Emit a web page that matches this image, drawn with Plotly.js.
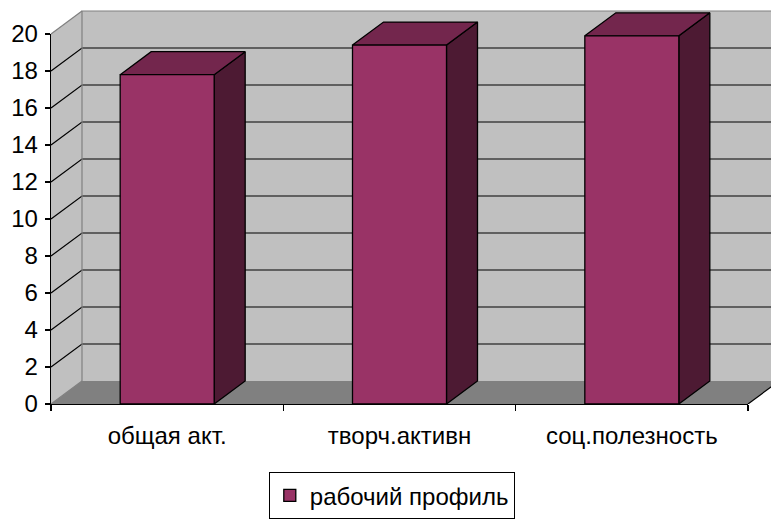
<!DOCTYPE html>
<html>
<head>
<meta charset="utf-8">
<script src="https://cdn.plot.ly/plotly-3.0.1.min.js"></script>
<style>html,body{margin:0;padding:0;background:#fff;}#chart{width:771px;height:521px;}</style>
</head>
<body>
<div id="chart"></div>
<script>
// ---- data ----
const categories = ['общая акт.', 'творч.активн', 'соц.полезность'];
const values = [17.8, 19.4, 19.9];
const seriesName = 'рабочий профиль';
const yTickVals = [0, 2, 4, 6, 8, 10, 12, 14, 16, 18, 20];
const yTickText = ['0', '2', '4', '6', '8', '10', '12', '14', '16', '18', '20'];

// ---- style / geometry ----
const FONT = '"Liberation Sans", Arial, sans-serif';
const FS = 24;
const W = 771, H = 521;
const PLOT_BOTTOM = 404;           // px of value 0 on front plane
const PX_PER_Y = 18.5;             // px per value unit
const AX_LEFT = 51, AX_RIGHT = 748; // front axis extent in px
const PX_PER_X = (AX_RIGHT - AX_LEFT) / categories.length;
const DX = 31 / PX_PER_X;          // depth offset (x units)
const DY = 23 / PX_PER_Y;          // depth offset (y units)
const BAR_W = 0.4046;
const YMAX = yTickVals[yTickVals.length - 1];
const X0 = -0.5, X1 = categories.length - 0.5;
const XMIN = X0 - AX_LEFT / PX_PER_X;
const XMAX = X1 + (W - AX_RIGHT) / PX_PER_X;
const XFAR = XMAX + 1;

const C_WALL = '#C0C0C0', C_FLOOR = '#808080', C_EDGE = '#808080';
const C_FRONT = '#993366', C_TOP = '#73264D', C_SIDE = '#4D1A33';

const traces = [];
function poly(xs, ys, fill, lineColor, lw) {
  traces.push({
    x: xs.concat([xs[0]]), y: ys.concat([ys[0]]),
    type: 'scatter', mode: 'lines', fill: 'toself', fillcolor: fill,
    line: {color: lineColor || fill, width: lw === undefined ? 0 : lw},
    xaxis: 'x', yaxis: 'y', hoverinfo: 'skip', showlegend: false
  });
}
function lines(xs, ys, color, lw) {
  traces.push({
    x: xs, y: ys, type: 'scatter', mode: 'lines',
    line: {color: color, width: lw},
    xaxis: 'x', yaxis: 'y', hoverinfo: 'skip', showlegend: false
  });
}

// back wall
poly([X0 + DX, XFAR, XFAR, X0 + DX], [DY, DY, YMAX + DY, YMAX + DY], C_WALL);
// left wall
poly([X0, X0 + DX, X0 + DX, X0], [0, DY, YMAX + DY, YMAX], C_WALL);
// gridlines on walls
const gx = [], gy = [];
yTickVals.forEach(v => {
  if (v === 0 || v === YMAX) return;
  gx.push(X0, X0 + DX, XFAR, null);
  gy.push(v, v + DY, v + DY, null);
});
lines(gx, gy, '#000000', 1.2);
// floor
poly([X0, X1, X1 + DX, X0 + DX], [0, 0, DY, DY], C_FLOOR);
// wall edges (gray)
lines([X0, X0 + DX, null, X0 + DX, X0 + DX, XFAR, null, X0, X0 + DX],
      [YMAX, YMAX + DY, null, DY, YMAX + DY, YMAX + DY, null, 0, DY], C_EDGE, 1.2);
// floor right edge
lines([X1, X1 + DX], [0, DY], '#000000', 1.2);

// bar 3D faces (side + top)
values.forEach((v, i) => {
  const l = i - BAR_W / 2, r = i + BAR_W / 2;
  poly([r, r + DX, r + DX, r], [0, DY, v + DY, v], C_SIDE, '#000000', 1.3);
  poly([l, r, r + DX, l + DX], [v, v, v + DY, v + DY], C_TOP, '#000000', 1.3);
});

// front faces + legend (visible axes subplot)
traces.push({
  x: categories, y: values, type: 'bar', name: seriesName,
  width: BAR_W, xaxis: 'x2', yaxis: 'y2',
  marker: {color: C_FRONT, line: {color: '#000000', width: 1.3}},
  hoverinfo: 'skip', showlegend: true
});

const plotH = PLOT_BOTTOM;
const layout = {
  width: W, height: H,
  margin: {l: 0, r: 0, t: 0, b: H - PLOT_BOTTOM, pad: 0, autoexpand: false},
  paper_bgcolor: '#ffffff', plot_bgcolor: 'rgba(0,0,0,0)',
  font: {family: FONT, size: FS, color: '#000000'},
  showlegend: true,
  xaxis: {domain: [0, 1], range: [XMIN, XMAX], visible: false, fixedrange: true, automargin: false},
  yaxis: {domain: [0, 1], range: [0, PLOT_BOTTOM / PX_PER_Y], visible: false, fixedrange: true, automargin: false},
  xaxis2: {
    domain: [AX_LEFT / W, AX_RIGHT / W], anchor: 'y2', type: 'category',
    categoryorder: 'array', categoryarray: categories,
    range: [X0, X1], tickson: 'boundaries', automargin: false,
    showline: true, linecolor: '#000000', linewidth: 1.3,
    ticks: 'outside', ticklen: 6, tickwidth: 1.3, tickcolor: '#000000',
    showgrid: false, zeroline: false, ticklabelstandoff: 10,
    tickfont: {family: FONT, size: FS, color: '#000000'}, fixedrange: true
  },
  yaxis2: {
    domain: [0, (YMAX * PX_PER_Y) / plotH], anchor: 'x2', range: [0, YMAX],
    tickmode: 'array', tickvals: yTickVals, ticktext: yTickText, automargin: false,
    showline: true, linecolor: '#000000', linewidth: 1.3,
    ticks: 'outside', ticklen: 5, tickwidth: 1.3, tickcolor: '#000000',
    showgrid: false, zeroline: false, ticklabelstandoff: 2,
    tickfont: {family: FONT, size: FS, color: '#000000'}, fixedrange: true
  },
  legend: {
    xref: 'container', yref: 'container',
    x: 392 / W, xanchor: 'center', y: 1 - 519 / H, yanchor: 'bottom',
    orientation: 'h', bgcolor: '#ffffff', bordercolor: '#000000', borderwidth: 1.3,
    font: {family: FONT, size: FS, color: '#000000'}
  }
};

Plotly.newPlot('chart', traces, layout, {displayModeBar: false, staticPlot: true});
</script>
</body>
</html>
